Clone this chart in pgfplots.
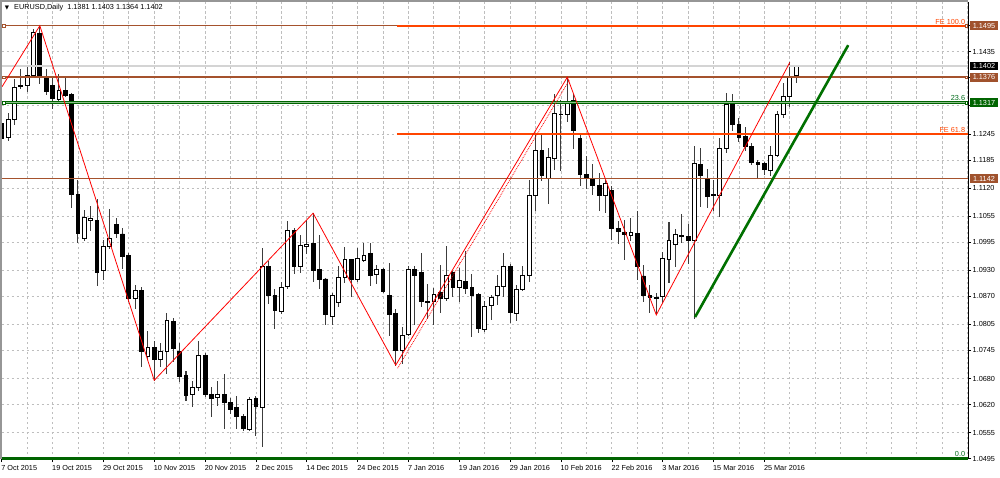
\documentclass[border=0pt]{standalone}
\usepackage{pgfplots}
\pgfplotsset{compat=1.18}
\usepackage{pgfplotstable}
\usepackage{fontspec}
\setmainfont{Liberation Sans}
\newfontfamily\dejavu{DejaVu Sans}
\definecolor{brownline}{RGB}{165,82,45}
\definecolor{brownbox}{RGB}{160,82,45}
\definecolor{feorange}{RGB}{255,69,0}
\definecolor{fibgreen}{RGB}{0,100,0}
\definecolor{fibgreenlight}{RGB}{140,190,140}
\definecolor{pricegray}{RGB}{212,212,212}
\definecolor{trendgreen}{RGB}{0,112,0}
\definecolor{gridgray}{RGB}{190,190,190}
\definecolor{wick}{RGB}{60,60,60}
\definecolor{framegray}{RGB}{150,150,150}

\pgfplotstableread{
i O H L C
0 1.1269 1.1281 1.1208 1.1235
1 1.1237 1.1292 1.1231 1.1279
2 1.1279 1.1370 1.1266 1.1353
3 1.1358 1.1393 1.1350 1.1354
4 1.1356 1.1404 1.1343 1.1379
5 1.1379 1.1487 1.1377 1.1480
6 1.1477 1.1495 1.1362 1.1377
7 1.1377 1.1393 1.1335 1.1343
8 1.1356 1.1376 1.1304 1.1326
9 1.1325 1.1383 1.1323 1.1346
10 1.1346 1.1373 1.1331 1.1335
11 1.1336 1.1339 1.1075 1.1105
12 1.1105 1.1138 1.0994 1.1015
13 1.1004 1.1069 1.1000 1.1051
14 1.1046 1.1077 1.1023 1.1049
15 1.1046 1.1094 1.0896 1.0924
16 1.0929 1.1000 1.0908 1.0985
17 1.0986 1.1071 1.0981 1.1004
18 1.1035 1.1050 1.1006 1.1015
19 1.1014 1.1027 1.0934 1.0961
20 1.0965 1.0968 1.0857 1.0865
21 1.0864 1.0896 1.0842 1.0883
22 1.0884 1.0891 1.0707 1.0743
23 1.0730 1.0788 1.0724 1.0751
24 1.0751 1.0765 1.0676 1.0724
25 1.0724 1.0761 1.0707 1.0742
26 1.0743 1.0830 1.0692 1.0814
27 1.0813 1.0819 1.0719 1.0750
28 1.0742 1.0761 1.0673 1.0686
29 1.0687 1.0696 1.0630 1.0642
30 1.0643 1.0673 1.0616 1.0660
31 1.0659 1.0765 1.0653 1.0734
32 1.0734 1.0737 1.0638 1.0644
33 1.0643 1.0660 1.0592 1.0634
34 1.0636 1.0673 1.0619 1.0643
35 1.0644 1.0690 1.0565 1.0624
36 1.0624 1.0634 1.0600 1.0609
37 1.0613 1.0638 1.0565 1.0593
38 1.0592 1.0596 1.0559 1.0565
39 1.0563 1.0636 1.0561 1.0632
40 1.0634 1.0638 1.0549 1.0615
41 1.0613 1.0981 1.0523 1.0938
42 1.0938 1.0950 1.0854 1.0873
43 1.0873 1.0886 1.0796 1.0837
44 1.0834 1.0901 1.0830 1.0891
45 1.0892 1.1042 1.0888 1.1023
46 1.1023 1.1026 1.0923 1.0938
47 1.0938 1.1011 1.0925 1.0987
48 1.0985 1.1046 1.0969 1.0990
49 1.0992 1.1062 1.0904 1.0929
50 1.0931 1.1011 1.0888 1.0910
51 1.0910 1.0911 1.0804 1.0827
52 1.0824 1.0877 1.0804 1.0873
53 1.0856 1.0938 1.0846 1.0913
54 1.0914 1.0983 1.0901 1.0956
55 1.0954 1.0955 1.0869 1.0910
56 1.0909 1.0981 1.0904 1.0958
57 1.0952 1.0991 1.0950 1.0965
58 1.0968 1.0992 1.0896 1.0919
59 1.0921 1.0942 1.0900 1.0931
60 1.0932 1.0935 1.0878 1.0882
61 1.0873 1.0946 1.0780 1.0829
62 1.0830 1.0840 1.0711 1.0746
63 1.0746 1.0798 1.0715 1.0780
64 1.0782 1.0938 1.0780 1.0931
65 1.0933 1.0938 1.0804 1.0919
66 1.0925 1.0969 1.0847 1.0858
67 1.0858 1.0898 1.0819 1.0855
68 1.0858 1.0888 1.0804 1.0875
69 1.0879 1.0941 1.0832 1.0865
70 1.0865 1.0985 1.0861 1.0918
71 1.0925 1.0927 1.0869 1.0891
72 1.0891 1.0935 1.0857 1.0906
73 1.0905 1.0973 1.0877 1.0888
74 1.0891 1.0921 1.0777 1.0871
75 1.0874 1.0877 1.0786 1.0796
76 1.0794 1.0857 1.0788 1.0847
77 1.0850 1.0873 1.0817 1.0867
78 1.0871 1.0917 1.0850 1.0892
79 1.0892 1.0968 1.0869 1.0938
80 1.0938 1.0944 1.0810 1.0833
81 1.0830 1.0894 1.0815 1.0886
82 1.0886 1.0938 1.0884 1.0918
83 1.0918 1.1138 1.0904 1.1104
84 1.1104 1.1242 1.1068 1.1206
85 1.1206 1.1246 1.1138 1.1150
86 1.1142 1.1212 1.1085 1.1191
87 1.1189 1.1335 1.1162 1.1292
88 1.1291 1.1323 1.1160 1.1289
89 1.1289 1.1376 1.1273 1.1320
90 1.1323 1.1335 1.1212 1.1252
91 1.1235 1.1246 1.1125 1.1152
92 1.1152 1.1192 1.1119 1.1142
93 1.1140 1.1175 1.1104 1.1125
94 1.1125 1.1154 1.1069 1.1104
95 1.1104 1.1138 1.1064 1.1131
96 1.1115 1.1123 1.1001 1.1027
97 1.1026 1.1042 1.0992 1.1019
98 1.1018 1.1046 1.0955 1.1013
99 1.1011 1.1050 1.1000 1.1018
100 1.1015 1.1065 1.0908 1.0938
101 1.0917 1.0941 1.0857 1.0871
102 1.0873 1.0894 1.0833 1.0867
103 1.0868 1.0876 1.0827 1.0866
104 1.0869 1.0971 1.0855 1.0958
105 1.0955 1.1040 1.0901 1.1000
106 1.0990 1.1025 1.0938 1.1013
107 1.1011 1.1058 1.0994 1.1009
108 1.1009 1.1035 1.0945 1.0998
109 1.0998 1.1217 1.0819 1.1177
110 1.1175 1.1212 1.1078 1.1149
111 1.1140 1.1162 1.1075 1.1100
112 1.1102 1.1138 1.1069 1.1106
113 1.1104 1.1235 1.1055 1.1212
114 1.1212 1.1339 1.1202 1.1312
115 1.1314 1.1335 1.1252 1.1267
116 1.1266 1.1281 1.1227 1.1237
117 1.1240 1.1260 1.1206 1.1215
118 1.1215 1.1223 1.1175 1.1179
119 1.1180 1.1183 1.1144 1.1175
120 1.1177 1.1179 1.1152 1.1163
121 1.1161 1.1215 1.1150 1.1196
122 1.1196 1.1296 1.1192 1.1289
123 1.1289 1.1361 1.1283 1.1331
124 1.1331 1.1410 1.1308 1.1377
125 1.1381 1.1403 1.1364 1.1402
}\candles

\newcommand{\lab}{\fontsize{7.3}{8}\selectfont}

\pgfplotsset{
  base/.style={
    at={(0pt,0pt)}, anchor=south west,
    scale only axis, width=966.3pt, height=457pt,
    xmin=0, xmax=152.05, ymin=1.04943, ymax=1.15497,
  },
}
\tikzset{
  lvlbox/.style={inner sep=0pt, minimum width=28pt, minimum height=8.6pt,
    text=white, font=\lab, anchor=center, xshift=16pt},
  handle/.style={fill=white, inner sep=0pt, minimum size=2.6pt, line width=0.6pt},
}

\begin{document}
\begin{tikzpicture}
\useasboundingbox (-1.7pt,-18pt) rectangle (998.3pt,459pt);
% ---------- background: grid, ticks
\begin{axis}[base,
  axis line style={draw=none},
  tick align=outside,
  major tick length=3pt,
  minor tick length=0pt,
  tick style={black, line width=0.6pt},
  xtick pos=left, ytick pos=right,
  yticklabel pos=right,
  xtick={0,8,...,120},
  xticklabels={7 Oct 2015,19 Oct 2015,29 Oct 2015,10 Nov 2015,20 Nov 2015,2 Dec 2015,14 Dec 2015,24 Dec 2015,7 Jan 2016,19 Jan 2016,29 Jan 2016,10 Feb 2016,22 Feb 2016,3 Mar 2016,15 Mar 2016,25 Mar 2016},
  minor xtick={0,4,...,152},
  ytick={1.0495,1.0555,1.0620,1.0680,1.0745,1.0805,1.0870,1.0930,1.0995,1.1055,1.1120,1.1185,1.1245,1.1310,1.1375,1.1435,1.1495},
  yticklabels={1.0495,1.0555,1.0620,1.0680,1.0745,1.0805,1.0870,1.0930,1.0995,1.1055,1.1120,1.1185,1.1245,,,1.1435,},
  xmajorgrids=false, xminorgrids=true, ymajorgrids=true,
  grid style={gridgray, dash pattern=on 2.5pt off 2.5pt, line width=0.8pt},
  minor grid style={gridgray, dash pattern=on 2.5pt off 2.5pt, line width=0.8pt},
  xticklabel style={font=\lab, anchor=north west, inner sep=0pt, xshift=-0.5pt, yshift=-3pt},
  yticklabel style={font=\lab, anchor=west, inner sep=0pt, xshift=1.5pt},
]
\addplot[draw=none] coordinates {(0,1.1)};
\end{axis}
% ---------- wicks
\begin{axis}[base, hide axis, ybar stacked, bar width=0.01pt]
\addplot[draw=none, fill=none] table[x=i, y=L] {\candles};
\addplot[draw=wick, fill=none, line width=1pt] table[x=i, y expr={\thisrow{H}-\thisrow{L}}] {\candles};
\end{axis}
% ---------- candle bodies
\begin{axis}[base, hide axis, ybar stacked, bar width=3.8pt]
\addplot[draw=none, fill=none] table[x=i, y expr={min(\thisrow{O},\thisrow{C})}] {\candles};
\addplot[fill=white, draw=black, line width=0.9pt] table[x=i, y expr={max(\thisrow{C}-\thisrow{O},0)}] {\candles};
\addplot[fill=black, draw=black, line width=0.9pt] table[x=i, y expr={max(\thisrow{O}-\thisrow{C},0)}] {\candles};
\end{axis}
% ---------- objects
\begin{axis}[base, hide axis, clip=false]
\draw[black, line width=0.8pt] (rel axis cs:1,0) -- (rel axis cs:1,1);
\draw[black, line width=0.8pt] (rel axis cs:0,0) -- (rel axis cs:1,0);
\addplot[pricegray, line width=1.8pt] coordinates {(0.05,1.1402) (152.05,1.1402)};
\addplot[brownline, line width=1.5pt] coordinates {(0.05,1.1495) (152.05,1.1495)};
\addplot[brownline, line width=1.5pt] coordinates {(0.05,1.1376) (152.05,1.1376)};
\addplot[brownline, line width=1.5pt] coordinates {(0.05,1.1142) (152.05,1.1142)};
\addplot[fibgreen, line width=3pt] coordinates {(0.05,1.1317) (152.05,1.1317)};
\addplot[fibgreenlight, line width=0.9pt] coordinates {(0.05,1.1317) (152.05,1.1317)};
\addplot[fibgreen, line width=2.6pt] coordinates {(0.05,1.0495) (152.05,1.0495)};
\addplot[feorange, line width=1.8pt] coordinates {(62.2,1.1495) (152.05,1.1495)};
\addplot[feorange, line width=1.8pt] coordinates {(62.2,1.1245) (152.05,1.1245)};
\addplot[red, line width=0.8pt] coordinates {(0.05,1.1354) (6,1.1495) (24,1.0676) (49,1.1062) (62,1.0711) (89,1.1376) (103,1.0827) (124,1.1410)};
\addplot[red, line width=0.8pt, densely dotted] coordinates {(62.3,1.0704) (89.3,1.1369)};
\addplot[trendgreen, line width=2.6pt] coordinates {(109.1,1.0822) (133.2,1.1450)};
% handles
\node[handle, draw=brownline] at (axis cs:0.3,1.1495) {};
\node[handle, draw=brownline] at (axis cs:0.3,1.1376) {};
\node[handle, draw=fibgreen] at (axis cs:0.3,1.1317) {};
\node[handle, draw=brownline] at (axis cs:151.8,1.1495) {};
\node[handle, draw=brownline] at (axis cs:151.8,1.1376) {};
\node[handle, draw=fibgreen] at (axis cs:151.8,1.1317) {};
% level texts
\node[anchor=south east, inner sep=0.5pt, font=\lab, text=feorange] at (axis cs:151.7,1.1497) {FE 100.0};
\node[anchor=south east, inner sep=0.5pt, font=\lab, text=feorange] at (axis cs:151.7,1.1247) {FE 61.8};
\node[anchor=south east, inner sep=0.5pt, font=\lab, text=fibgreen!80!teal] at (axis cs:151.7,1.1320) {23.6};
\node[anchor=south east, inner sep=0.5pt, font=\lab, text=fibgreen!80!teal] at (axis cs:151.7,1.0498) {0.0};
% price boxes
\node[lvlbox, fill=brownbox] at (axis cs:152.05,1.1495) {1.1495};
\node[lvlbox, fill=black] at (axis cs:152.05,1.1402) {1.1402};
\node[lvlbox, fill=brownbox] at (axis cs:152.05,1.1376) {1.1376};
\node[lvlbox, fill=fibgreen] at (axis cs:152.05,1.1317) {1.1317};
\node[lvlbox, fill=brownbox] at (axis cs:152.05,1.1142) {1.1142};
% frame
\draw[framegray, line width=2pt] ([xshift=-0.7pt]rel axis cs:0,0) -- ([xshift=-0.7pt, yshift=2pt]rel axis cs:0,1);
\draw[framegray, line width=2pt] ([yshift=1pt]rel axis cs:0,1) -- ([yshift=1pt]rel axis cs:1,1);
\end{axis}
% ---------- title
\node[anchor=center, inner sep=0pt, font=\dejavu\fontsize{5.5}{6}\selectfont] at (5.3pt,451pt) {▼};
\node[anchor=west, inner sep=0pt, font=\lab] at (12.3pt,451pt) {EURUSD,Daily\ \ 1.1381 1.1403 1.1364 1.1402};
\end{tikzpicture}
\end{document}
